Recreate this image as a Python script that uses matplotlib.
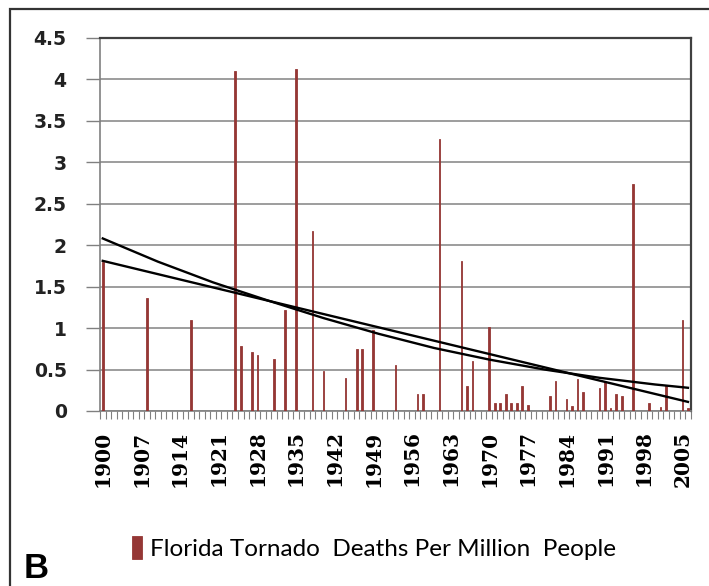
import numpy as np
import matplotlib.pyplot as plt
from matplotlib.patches import Rectangle

# 年ごとのカテゴリ
years = list(range(1900, 2007))

# 棒グラフの値 (読み取り値、他の年は0)
bar_years = [1900, 1908, 1916, 1924, 1925, 1927, 1928, 1931, 1933, 1935,
             1938, 1940, 1944, 1946, 1947, 1949, 1953, 1957, 1958, 1961,
             1965, 1966, 1967, 1970, 1971, 1972, 1973, 1974, 1975, 1976,
             1977, 1981, 1982, 1984, 1985, 1986, 1987, 1990, 1991, 1992,
             1993, 1994, 1996, 1999, 2001, 2002, 2005, 2006]
bar_values = [1.80, 1.36, 1.10, 4.10, 0.78, 0.71, 0.67, 0.63, 1.22, 4.12,
              2.17, 0.48, 0.40, 0.75, 0.75, 0.98, 0.55, 0.21, 0.21, 3.28,
              1.81, 0.30, 0.60, 1.01, 0.10, 0.10, 0.21, 0.10, 0.10, 0.30,
              0.07, 0.18, 0.36, 0.15, 0.06, 0.38, 0.23, 0.28, 0.35, 0.04,
              0.21, 0.18, 2.74, 0.10, 0.05, 0.31, 1.10, 0.04]

# トレンドライン (図から読み取った点)
trend_lin_years = [1900, 2006]
trend_lin_values = [1.81, 0.11]
trend_poly_years = [1900, 1910, 1920, 1930, 1940, 1950, 1960, 1970, 1980, 1990, 2000, 2006]
trend_poly_values = [2.08, 1.80, 1.55, 1.33, 1.12, 0.93, 0.76, 0.62, 0.50, 0.40, 0.32, 0.28]

tick_labels = [str(y) for y in range(1900, 2007, 7)]

deaths = dict(zip(bar_years, bar_values))
series = [deaths.get(y, 0.0) for y in years]
idx = np.arange(len(years))

bar_color = "#953735"

fig = plt.figure(figsize=(7.09, 5.86), dpi=100)
ax = fig.add_axes([100 / 709, 1 - 411 / 586, 590.7 / 709, (411 - 37.7) / 586])

ax.bar(idx, series, width=0.3, color=bar_color, edgecolor=bar_color, lw=0.6,
       zorder=3, label="Florida Tornado  Deaths Per Million  People")

ax.plot([years.index(y) for y in trend_lin_years], trend_lin_values,
        color="black", lw=1.7, zorder=4)
ax.plot([years.index(y) for y in trend_poly_years], trend_poly_values,
        color="black", lw=1.7, zorder=4)

ax.set_xlim(-0.5, len(years) - 0.5)
ax.set_ylim(0, 4.5)
ax.set_yticks(np.arange(0, 4.51, 0.5))
ax.set_yticklabels(["0", "0.5", "1", "1.5", "2", "2.5", "3", "3.5", "4", "4.5"],
                   fontsize=13.5, fontweight="bold", color="#222222")
ax.yaxis.grid(True, color="#8c8c8c", lw=1.2, zorder=0)
ax.tick_params(axis="y", length=10, width=1, color="#808080", pad=14)

ax.set_xticks([years.index(int(t)) for t in tick_labels])
ax.set_xticklabels(tick_labels, rotation=90, fontsize=14.5, fontweight="bold",
                   family="DejaVu Serif")
ax.set_xticks(np.arange(-0.5, len(years), 1), minor=True)
ax.tick_params(axis="x", which="major", length=0, pad=14)
ax.tick_params(axis="x", which="minor", length=6, width=0.8, color="#808080")

for s in ["top", "right"]:
    ax.spines[s].set_color("#404040")
    ax.spines[s].set_linewidth(1.6)
for s in ["left", "bottom"]:
    ax.spines[s].set_color("#808080")
    ax.spines[s].set_linewidth(1.2)

leg = fig.legend(loc="center", bbox_to_anchor=(374 / 709, 1 - 548 / 586),
                 frameon=False, handlelength=0.42, handleheight=1.1,
                 handletextpad=0.35, prop={"family": "Lato", "size": 17.5})

fig.text(24 / 709, 1 - 578 / 586, "B", fontsize=25, fontweight="bold",
         family="Liberation Sans", ha="left", va="baseline")

# 外枠
fig.patches.append(Rectangle((10 / 709, -0.05), 1.2, 1 - 9 / 586 + 0.05,
                             transform=fig.transFigure, fill=False,
                             edgecolor="#333333", lw=1.6))

fig.savefig("out.png", dpi=100)
